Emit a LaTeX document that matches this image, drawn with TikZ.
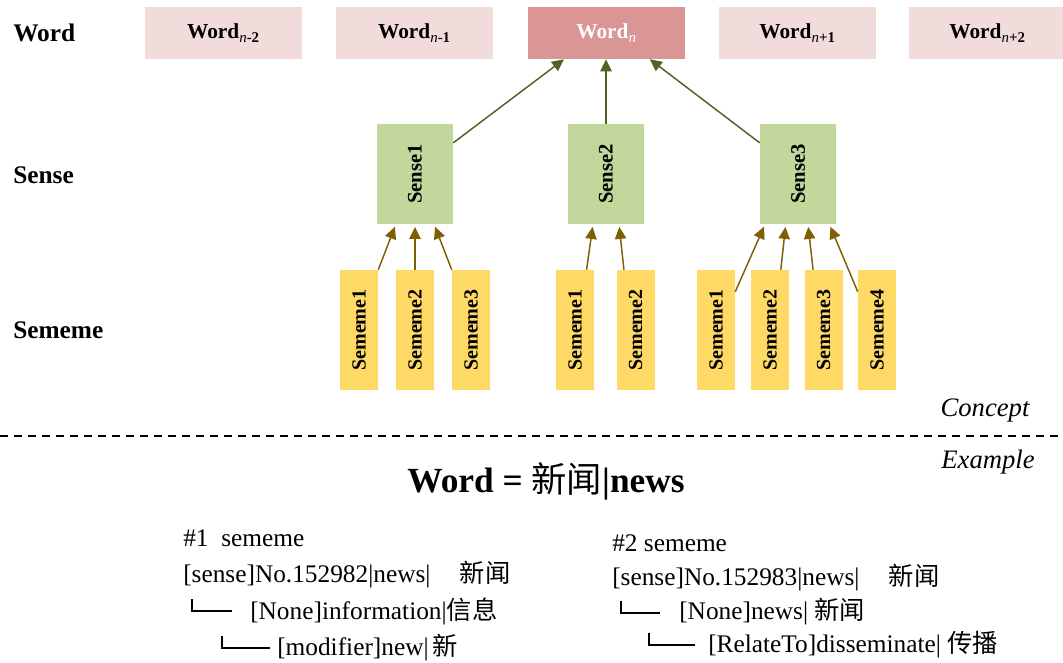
\documentclass[tikz,border=0pt]{standalone}
\usepackage{fontspec}
\usepackage{graphicx}
\setmainfont{Liberation Serif}
\newfontfamily\cjk{Noto Sans CJK SC}
\usetikzlibrary{calc,arrows.meta}
\newcommand\fsz[1]{\fontsize{#1}{#1}\selectfont}
\definecolor{wordpink}{HTML}{F2DCDB}
\definecolor{wordred}{HTML}{D99694}
\definecolor{sensegreen}{HTML}{C3D69B}
\definecolor{semyellow}{HTML}{FFD966}
\definecolor{garrowc}{HTML}{4F6228}
\definecolor{sarrowc}{HTML}{7F6000}
\tikzset{
  wordbox/.style={fill=wordpink, minimum width=117.75pt, minimum height=39pt, inner sep=0pt, font=\fsz{16pt}\bfseries},
  wordcur/.style={wordbox, fill=wordred, text=white},
  sensebox/.style={fill=sensegreen, minimum width=57pt, minimum height=75pt, inner sep=0pt, font=\fsz{15.5pt}\bfseries},
  semebox/.style={fill=semyellow, minimum width=28.5pt, minimum height=90pt, inner sep=0pt, font=\fsz{15pt}\bfseries},
  rowlabel/.style={anchor=west, inner sep=0pt, font=\fsz{19pt}\bfseries},
  garrow/.style={draw=garrowc, line width=1.1pt, -{Triangle[length=9pt,width=8.5pt]}},
  sarrow/.style={draw=sarrowc, line width=1.1pt, -{Triangle[length=9pt,width=8.5pt]}, shorten >=2pt},
  treetext/.style={anchor=west, inner sep=0pt, font=\fsz{19pt}},
  treeline/.style={draw=black, line width=1.5pt},
  tag/.style={inner sep=0pt, font=\fsz{20pt}\itshape}
}
\newcommand\wsub[1]{\textsubscript{\textnormal{\textit{n}}\textbf{#1}}}
\begin{document}
\begin{tikzpicture}[x=0.75pt,y=-0.75pt]
\useasboundingbox[fill=white] (0,0) rectangle (1063,662);

% row labels
\node[rowlabel] (lword) at (13,33) {Word};
\node[rowlabel] (lsense) at (13,175) {Sense};
\node[rowlabel] (lseme) at (13,330) {Sememe};

% word boxes
\node[wordbox] (wm2) at (223.5,33) {Word\wsub{-2}};
\node[wordbox] (wm1) at (414.5,33) {Word\wsub{-1}};
\node[wordcur] (wn) at (606.5,33) {Word\textsubscript{\textnormal{\textit{n}}}};
\node[wordbox] (wp1) at (797.5,33) {Word\wsub{+1}};
\node[wordbox] (wp2) at (987.5,33) {Word\wsub{+2}};

% sense boxes
\node[sensebox] (s1) at (415,174) {\rotatebox{90}{Sense1}};
\node[sensebox] (s2) at (606,174) {\rotatebox{90}{Sense2}};
\node[sensebox] (s3) at (798,174) {\rotatebox{90}{Sense3}};

% sememe boxes
\node[semebox] (a1) at (359,330) {\rotatebox{90}{Sememe1}};
\node[semebox] (a2) at (415,330) {\rotatebox{90}{Sememe2}};
\node[semebox] (a3) at (471,330) {\rotatebox{90}{Sememe3}};
\node[semebox] (b1) at (575,330) {\rotatebox{90}{Sememe1}};
\node[semebox] (b2) at (635.5,330) {\rotatebox{90}{Sememe2}};
\node[semebox] (c1) at (716,330) {\rotatebox{90}{Sememe1}};
\node[semebox] (c2) at (770,330) {\rotatebox{90}{Sememe2}};
\node[semebox] (c3) at (823.5,330) {\rotatebox{90}{Sememe3}};
\node[semebox] (c4) at (877,330) {\rotatebox{90}{Sememe4}};

% sense -> word arrows
\draw[garrow] ($(s1.north east)!0.19!(s1.south east)$) -- ($(wn.south west)!0.23!(wn.south east)$);
\draw[garrow] (s2.north) -- (wn.south -| s2.north);
\draw[garrow] ($(s3.north west)!0.19!(s3.south west)$) -- ($(wn.south west)!0.775!(wn.south east)$);

% sememe -> sense arrows
\draw[sarrow] (a1.north east) -- ($(s1.south west)!0.25!(s1.south east)$);
\draw[sarrow] (a2.north) -- (s1.south);
\draw[sarrow] (a3.north west) -- ($(s1.south west)!0.75!(s1.south east)$);
\draw[sarrow] ($(b1.north west)!0.8!(b1.north east)$) -- ($(s2.south west)!0.33!(s2.south east)$);
\draw[sarrow] ($(b2.north west)!0.2!(b2.north east)$) -- ($(s2.south west)!0.67!(s2.south east)$);
\draw[sarrow] ($(c1.north east)+(0,22)$) -- ($(s3.south west)!0.07!(s3.south east)$);
\draw[sarrow] ($(c2.north west)!0.78!(c2.north east)$) -- ($(s3.south west)!0.34!(s3.south east)$);
\draw[sarrow] ($(c3.north west)!0.23!(c3.north east)$) -- ($(s3.south west)!0.63!(s3.south east)$);
\draw[sarrow] ($(c4.north west)+(0,22)$) -- ($(s3.south west)!0.91!(s3.south east)$);

% separator
\draw[line width=0.9pt, dash pattern=on 6pt off 4.5pt] (0,436) -- (1063,436);
\node[tag] (concept) at (985,410) {Concept};
\node[tag] (example) at (988,462) {Example};

% title
\node[inner sep=0pt, font=\fsz{26.5pt}\bfseries] (title) at (546,481) {Word\ =\ {\cjk\mdseries 新闻}|news};

% left tree
\node[treetext] (l0) at (183,538) {\#1\ \ sememe};
\node[treetext] (l1) at (183,575) {[sense]No.152982|news|\hspace{22pt}{\cjk 新闻}};
\node[treetext] (l2) at (250,611) {[None]information|{\cjk 信息}};
\node[treetext] (l3) at (277,648) {[modifier]new|\,{\cjk 新}};
\draw[treeline] (192,599) |- (232,611);
\draw[treeline] (222,636) |- (270,648);

% right tree
\node[treetext] (r0) at (612,543) {\#2 sememe};
\node[treetext] (r1) at (612,578) {[sense]No.152983|news|\hspace{22pt}{\cjk 新闻}};
\node[treetext] (r2) at (679,612) {[None]news|\ {\cjk 新闻}};
\node[treetext] (r3) at (708,645) {[RelateTo]disseminate|\ {\cjk 传播}};
\draw[treeline] (621,601) |- (660,613);
\draw[treeline] (649,633) |- (695,645);
\end{tikzpicture}
\end{document}
